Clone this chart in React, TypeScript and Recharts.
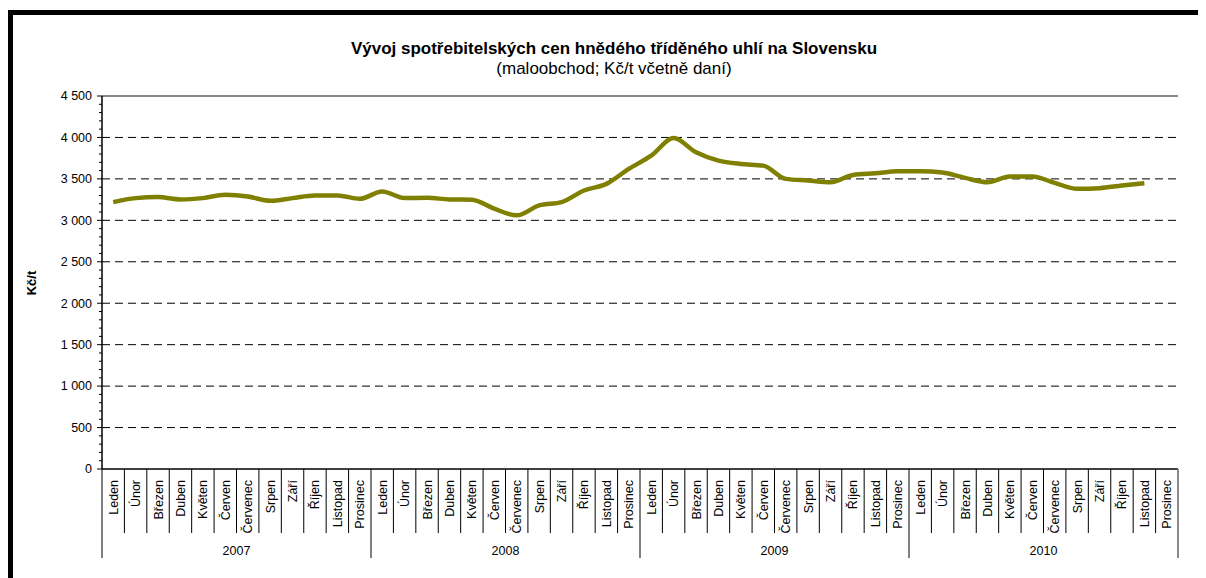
import React from "react";
import { LineChart, Line, XAxis, YAxis, ReferenceLine } from "recharts";

// Vývoj spotřebitelských cen hnědého tříděného uhlí na Slovensku (Kč/t)

const MONTHS = [
  "Leden",
  "Únor",
  "Březen",
  "Duben",
  "Květen",
  "Červen",
  "Červenec",
  "Srpen",
  "Září",
  "Říjen",
  "Listopad",
  "Prosinec",
];
const YEARS = ["2007", "2008", "2009", "2010"];

const PRICES_2007 = [3220, 3268, 3280, 3252, 3268, 3308, 3288, 3236, 3268, 3300, 3300, 3260];
const PRICES_2008 = [3348, 3268, 3272, 3252, 3248, 3140, 3060, 3180, 3220, 3360, 3440, 3620];
const PRICES_2009 = [3780, 3992, 3820, 3720, 3680, 3660, 3500, 3480, 3460, 3548, 3568, 3592];
const PRICES_2010 = [3592, 3576, 3512, 3460, 3528, 3528, 3452, 3380, 3388, 3420, 3448, null];
const PRICES = [PRICES_2007, PRICES_2008, PRICES_2009, PRICES_2010];

const Y_TICKS = [0, 500, 1000, 1500, 2000, 2500, 3000, 3500, 4000, 4500];
const Y_TICK_LABELS = ["0", "500", "1 000", "1 500", "2 000", "2 500", "3 000", "3 500", "4 000", "4 500"];
const GRID_VALUES = [500, 1000, 1500, 2000, 2500, 3000, 3500, 4000];
const MINOR_STEP = 100;

const TITLE = "Vývoj spotřebitelských cen hnědého tříděného uhlí na Slovensku";
const SUBTITLE = "(maloobchod; Kč/t včetně daní)";
const Y_LABEL = "Kč/t";

const data = YEARS.flatMap((year, yi) =>
  MONTHS.map((month, mi) => ({
    key: `${year}-${mi}`,
    month,
    year,
    price: PRICES[yi][mi],
  }))
);

const yAxisTicks: number[] = [];
for (let v = 0; v <= 4500; v += MINOR_STEP) yAxisTicks.push(v);

const WIDTH = 1198;
const HEIGHT = 570;
const MARGIN = { top: 88, right: 28, bottom: 0, left: 0 };
const Y_AXIS_WIDTH = 94;
const X_AXIS_HEIGHT = 109;
const PLOT_W = WIDTH - MARGIN.right - Y_AXIS_WIDTH;
const BAND = PLOT_W / data.length;

const FONT = "Arial, 'Liberation Sans', Helvetica, sans-serif";

function YTick(props: any) {
  const { x, y, payload } = props;
  const v = payload.value as number;
  const idx = Y_TICKS.indexOf(v);
  const major = idx >= 0;
  return (
    <g>
      <line x1={x - (major ? 5 : 3)} x2={x} y1={y} y2={y} stroke="#000" strokeWidth={1} />
      {major && (
        <text x={x - 10} y={y} dy="0.35em" textAnchor="end" fontSize={12.5} fill="#000" fontFamily={FONT}>
          {Y_TICK_LABELS[idx]}
        </text>
      )}
    </g>
  );
}

function MonthTick(props: any) {
  const { x, y, index } = props;
  const row = data[index];
  if (!row) return null;
  const half = BAND / 2;
  const perYear = MONTHS.length;
  const yearStart = index % perYear === 0;
  const last = index === data.length - 1;
  return (
    <g>
      <line
        x1={x - half}
        x2={x - half}
        y1={y}
        y2={y + (yearStart ? 89 : 64)}
        stroke="#000"
        strokeWidth={1}
      />
      {last && (
        <line x1={x + half} x2={x + half} y1={y} y2={y + 89} stroke="#888" strokeWidth={2} />
      )}
      <text
        transform={`translate(${x},${y + 11}) rotate(-90)`}
        dy="0.36em"
        textAnchor="end"
        fontSize={12.5}
        fill="#000"
        fontFamily={FONT}
      >
        {row.month}
      </text>
      {yearStart && (
        <text
          x={x - half + BAND * (perYear / 2)}
          y={y + 86}
          textAnchor="middle"
          fontSize={12.5}
          fill="#000"
          fontFamily={FONT}
        >
          {row.year}
        </text>
      )}
    </g>
  );
}

export default function App() {
  return (
    <div style={{ position: "relative", width: WIDTH, height: HEIGHT, background: "#fff" }}>
      <div
        style={{
          position: "absolute",
          left: 0,
          top: 2,
          width: WIDTH + 20,
          height: HEIGHT + 20,
          borderTop: "5px solid #000",
          borderLeft: "5px solid #000",
          boxSizing: "border-box",
        }}
      />
      <div style={{ position: "absolute", left: 0, top: 0 }}>
        <LineChart width={WIDTH} height={HEIGHT} data={data} margin={MARGIN}>
          {GRID_VALUES.map((v) => (
            <ReferenceLine key={v} y={v} stroke="#000" strokeDasharray="8 5" strokeWidth={1} />
          ))}
          <ReferenceLine y={4500} stroke="#888" strokeWidth={2} />
          <XAxis
            dataKey="key"
            interval={0}
            height={X_AXIS_HEIGHT}
            padding={{ left: BAND / 2, right: BAND / 2 }}
            tickSize={0}
            tickMargin={0}
            tickLine={false}
            axisLine={{ stroke: "#000", strokeWidth: 1.5 }}
            tick={<MonthTick />}
          />
          <YAxis
            domain={[0, 4500]}
            ticks={yAxisTicks}
            interval={0}
            width={Y_AXIS_WIDTH}
            tickSize={0}
            tickMargin={0}
            tickLine={false}
            axisLine={{ stroke: "#000", strokeWidth: 1.5 }}
            tick={<YTick />}
          />
          <YAxis
            yAxisId="right"
            orientation="right"
            width={0}
            domain={[0, 4500]}
            tick={false}
            tickLine={false}
            axisLine={{ stroke: "#888", strokeWidth: 2 }}
          />
          <Line
            type="monotone"
            dataKey="price"
            stroke="#808000"
            strokeWidth={4.5}
            dot={false}
            activeDot={false}
            isAnimationActive={false}
          />
        </LineChart>
      </div>
      <svg
        width={WIDTH}
        height={HEIGHT}
        style={{ position: "absolute", left: 0, top: 0, pointerEvents: "none" }}
      >
        <text x={606} y={46} textAnchor="middle" fontSize={17} fontWeight="bold" fontFamily={FONT} fill="#000">
          {TITLE}
        </text>
        <text x={606} y={66} textAnchor="middle" fontSize={17} fontFamily={FONT} fill="#000">
          {SUBTITLE}
        </text>
        <text
          transform="translate(23,275) rotate(-90)"
          dy="0.35em"
          textAnchor="middle"
          fontSize={13}
          fontWeight="bold"
          fontFamily={FONT}
          fill="#000"
        >
          {Y_LABEL}
        </text>
      </svg>
    </div>
  );
}
